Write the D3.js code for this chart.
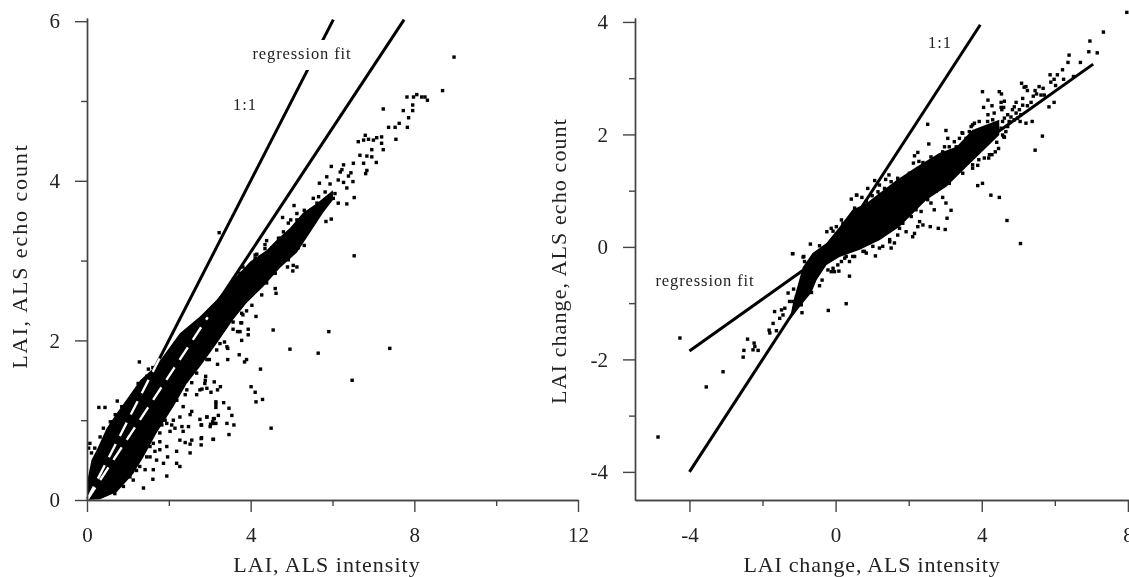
<!DOCTYPE html>
<html>
<head>
<meta charset="utf-8">
<script src="https://cdnjs.cloudflare.com/ajax/libs/d3/7.8.5/d3.min.js"></script>
<style>
body { margin: 0; background: #fff; overflow: hidden; }
svg { display: block; filter: blur(0.35px); }
text { font-family: "Liberation Serif", serif; fill: #222; }
.axis path, .axis line { stroke: #444; stroke-width: 1.4px; }
.axis text { font-family: "Liberation Serif", serif; font-size: 21px; fill: #222; }
</style>
</head>
<body>
<div class="chart"></div>
<script>
var svgWidth = 1129;
var svgHeight = 577;

// tick values
var leftXMajor = [0, 4, 8, 12];
var leftXMinor = [2, 6, 10];
var leftYMajor = [0, 2, 4, 6];
var leftYMinor = [1, 3, 5];
var rightXMajor = [-4, 0, 4, 8];
var rightXMinor = [-2, 2, 6];
var rightYMajor = [-4, -2, 0, 2, 4];
var rightYMinor = [-3, -1, 1, 3];

// reference lines, end points
var leftOneToOne = [[0, 0], [6.02, 6.02]];
var leftFit = [[0, 0], [7.75, 6.02]];
var leftOneToOneWhite = [[0, 0], [1.8, 1.8]];
var leftFitWhite = [[0, 0], [2.95, 2.29]];
var rightOneToOne = [[-4, -4], [3.96, 3.95]];
var rightFit = [[-4, -1.85], [7.05, 3.25]];

// outline of the solid part of each cloud
var leftCloud = [[0, 0], [0.01, 0.25], [0.11, 0.5], [0.24, 0.63], [0.48, 0.9], [0.73, 1.09], [1.05, 1.32],
    [1.3, 1.5], [1.7, 1.69], [2.27, 2.09], [2.76, 2.3], [3.17, 2.51], [3.57, 2.76], [3.99, 2.99],
    [4.39, 3.13], [4.64, 3.26], [4.96, 3.41], [5.28, 3.6], [5.62, 3.72], [6.01, 3.88],
    [6.01, 3.76], [5.77, 3.6], [5.45, 3.35], [5.13, 3.1], [4.72, 2.91], [4.3, 2.67], [3.9, 2.47],
    [3.57, 2.26], [3.17, 1.96], [2.76, 1.67], [2.44, 1.46], [2.11, 1.17], [1.7, 0.84], [1.38, 0.54],
    [1.13, 0.33], [0.73, 0.1], [0.32, 0.01]];
var rightCloud = [[-1.26, -1.3], [-1.15, -0.95], [-0.9, -0.36], [-0.63, -0.11], [-0.25, 0.07], [0.11, 0.36], [0.46, 0.66],
    [0.85, 0.78], [1.67, 1.19], [2.21, 1.42], [2.84, 1.67], [3.31, 1.78], [3.74, 2.08], [4.48, 2.26],
    [4.48, 1.99], [3.58, 1.42], [3.03, 1.07], [2.49, 0.84], [1.75, 0.36], [1.2, 0.12], [0.66, -0.05],
    [0.11, -0.18], [-0.25, -0.32], [-0.52, -0.59], [-0.66, -0.81], [-0.9, -1.0]];

// single points outside the solid part
var leftPoints = [[4.55, 2.13], [5.91, 2.11], [4.96, 1.89], [5.65, 1.84], [7.4, 1.9], [6.48, 1.5], [4.24, 1.64],
    [3.72, 1.82], [3.44, 1.76], [3.9, 1.76], [3.85, 1.73], [3.19, 1.7], [2.99, 1.76], [3.44, 1.9], [3.78, 2.0],
    [3.74, 2.11], [3.68, 2.11], [3.94, 2.14], [3.94, 2.07], [3.57, 2.14], [3.36, 1.98], [3.78, 2.22], [2.9, 1.55],
    [3.11, 1.48], [2.88, 1.46], [2.93, 1.4], [3.03, 1.35], [3.19, 1.38], [3.26, 1.42], [2.81, 1.39], [4.01, 1.42],
    [4.11, 1.35], [4.29, 1.26], [4.13, 1.23], [3.15, 1.23], [3.15, 1.2], [3.15, 1.16], [3.34, 1.22], [3.47, 1.15],
    [3.21, 1.06], [3.54, 1.06], [2.93, 1.04], [3.11, 1.02], [3.07, 0.98], [3.02, 0.95], [3.01, 0.92], [3.15, 0.96],
    [2.79, 0.94], [3.42, 0.96], [3.59, 0.94], [4.5, 0.9], [3.47, 0.82], [3.08, 0.76], [2.79, 0.77],
    [0.29, 1.16], [0.44, 1.16], [0.74, 1.24], [1.28, 1.73], [0.07, 0.71], [0.04, 0.65], [1.5, 1.64], [1.61, 1.66],
    [1.38, 0.15], [1.61, 0.26], [1.95, 0.3], [1.42, 0.38], [1.62, 0.38], [1.87, 0.46], [1.97, 0.54], [2.19, 0.46],
    [2.27, 0.42], [1.7, 0.5], [1.54, 0.54], [2.19, 0.61], [2.52, 0.59], [1.46, 0.67], [1.66, 0.61], [1.78, 0.63],
    [1.62, 0.71], [1.78, 0.73], [1.95, 0.67], [2.27, 0.75], [2.4, 0.72], [2.56, 0.75], [2.8, 0.78], [2.79, 0.69],
    [2.52, 0.7], [3.09, 0.76], [2.07, 0.94], [2.15, 0.9], [2.03, 0.86], [2.32, 0.92], [2.35, 0.86], [2.11, 1.0],
    [2.27, 1.04], [2.48, 0.92], [1.78, 1.07], [1.91, 1.0], [1.83, 0.94], [2.76, 1.01], [2.93, 1.04], [3.09, 1.02],
    [2.8, 0.94], [3.09, 0.96], [2.52, 1.07], [2.56, 1.11], [2.35, 1.17], [2.76, 1.38], [2.68, 1.32], [2.89, 1.5],
    [2.56, 1.47], [2.4, 1.32], [2.19, 1.25], [4.13, 2.3], [3.42, 1.92], [3.25, 1.96],
    [3.23, 3.35], [5.06, 3.69], [4.78, 3.54], [5.86, 4.05], [5.68, 3.97], [5.94, 3.96], [6.19, 4.11], [6.45, 4.1],
    [6.39, 4.06], [6.5, 3.99], [6.27, 3.98], [6.35, 3.91], [6.14, 4.01], [6.53, 3.79], [6.35, 3.71], [6.14, 3.72],
    [6.81, 4.09], [6.84, 4.13], [6.53, 3.06], [5.97, 3.52], [5.84, 3.49], [5.82, 3.86], [5.66, 3.8], [5.53, 3.78],
    [5.62, 3.72], [6.06, 3.84], [6.02, 3.78], [5.9, 3.74], [5.78, 3.72], [5.74, 3.66], [5.13, 3.59], [5.31, 3.63],
    [5.49, 3.59], [5.57, 3.53], [5.37, 3.51], [4.92, 3.47], [4.98, 3.51], [5.13, 3.51], [4.8, 3.36], [4.72, 3.28],
    [4.39, 3.25], [4.35, 3.15], [4.15, 3.08], [4.11, 3.03], [5.31, 3.19], [5.13, 2.92], [4.9, 2.92], [5.03, 2.87],
    [5.04, 2.94], [4.6, 2.65], [4.62, 2.59], [3.9, 2.37], [3.81, 2.32], [3.76, 2.22],
    [8.97, 5.55], [8.69, 5.13], [7.82, 5.05], [8.06, 5.08], [7.98, 5.05], [8.18, 5.05], [8.26, 5.05], [8.32, 5.01],
    [7.24, 4.9], [7.73, 4.88], [7.96, 4.95], [7.96, 4.88], [7.86, 4.79], [7.83, 4.67], [7.63, 4.72], [7.53, 4.67],
    [7.37, 4.67], [7.55, 4.52], [7.24, 4.39], [6.63, 4.49], [6.76, 4.51], [6.8, 4.57], [6.88, 4.52], [7.0, 4.51],
    [7.08, 4.54], [7.2, 4.55], [7.2, 4.47], [6.67, 4.32], [6.84, 4.31], [6.96, 4.39], [6.76, 4.22], [7.07, 4.23],
    [6.96, 4.3], [5.97, 4.18], [6.27, 4.2], [6.51, 4.22], [6.23, 4.14],
    // along the edges of the solid part
    [3.81, 2.92], [3.99, 2.94], [3.74, 2.84], [4.11, 3.07], [4.35, 3.2], [4.52, 3.16], [4.68, 3.28], [5.21, 3.32],
    [5.28, 3.41], [5.45, 3.47], [4.6, 2.84], [4.39, 2.72], [4.27, 2.57], [4.03, 2.44], [3.78, 2.34], [3.57, 2.23],
    [4.76, 3.01], [4.92, 3.01], [5.16, 3.16], [1.46, 0.54], [1.29, 0.42], [1.13, 0.25], [0.89, 0.17], [0.68, 0.08],
    [1.05, 0.29], [1.21, 0.37], [1.54, 0.67], [1.78, 0.84], [1.95, 0.96], [2.19, 1.25], [2.44, 1.38], [2.68, 1.59],
    [2.93, 1.76], [3.17, 1.88], [0.11, 0.59], [0.19, 0.65], [0.32, 0.79], [0.4, 0.9], [0.57, 0.98], [0.69, 1.07],
    [0.85, 1.17], [1.09, 1.3], [1.25, 1.46], [1.46, 1.55], [1.7, 1.65]];
var rightPoints = [[7.97, 4.17], [7.33, 3.82], [6.96, 3.66], [6.93, 3.47], [7.16, 3.45], [6.39, 3.41], [6.36, 3.28],
    [6.7, 3.28], [6.21, 3.15], [5.87, 3.06], [6.07, 3.06], [5.98, 2.98], [5.89, 2.93], [6.24, 2.98], [6.02, 2.87],
    [6.51, 3.03], [5.09, 2.91], [5.21, 2.85], [5.25, 2.78], [5.16, 2.84], [5.57, 2.85], [5.68, 2.82], [5.46, 2.78],
    [5.5, 2.72], [5.41, 2.68], [5.62, 2.7], [5.71, 2.7], [4.02, 2.76], [4.48, 2.76], [4.54, 2.72], [4.17, 2.61],
    [4.62, 2.59], [4.53, 2.57], [4.28, 2.51], [4.05, 2.48], [4.53, 2.48], [4.6, 2.48], [4.55, 2.44], [4.94, 2.57],
    [5.12, 2.64], [5.35, 2.57], [5.25, 2.51], [5.12, 2.52], [4.89, 2.49], [5.03, 2.44], [4.84, 2.44], [5.98, 2.57],
    [5.84, 2.49], [4.17, 2.35], [4.34, 2.38], [4.3, 2.26], [4.16, 2.23], [4.71, 2.35], [4.8, 2.31], [4.94, 2.38],
    [5.07, 2.35], [4.98, 2.29], [4.62, 2.29], [4.57, 2.23], [4.75, 2.23], [4.89, 2.26], [5.38, 2.23], [5.21, 2.2],
    [5.05, 2.23], [3.93, 2.23], [3.8, 2.2], [3.71, 2.14], [3.66, 2.05], [4.53, 2.11], [4.71, 2.14], [4.66, 2.05],
    [4.57, 1.99], [4.62, 1.95], [5.66, 1.97], [3.46, 2.03],
    [2.52, 2.18], [2.55, 1.83], [3.02, 2.07], [3.07, 1.93], [3.25, 1.87], [3.11, 1.78], [3.39, 1.93], [3.48, 2.02],
    [3.61, 1.93], [3.75, 2.17], [2.98, 1.78], [2.25, 1.68], [2.16, 1.62], [2.13, 1.49], [2.28, 1.52], [2.39, 1.5],
    [1.46, 1.28], [1.37, 1.2], [1.52, 1.16], [1.07, 1.18], [1.2, 1.1], [1.34, 1.04], [1.16, 0.98], [1.0, 0.91],
    [0.43, 0.85], [0.58, 0.92], [0.72, 0.88], [0.88, 1.04], [0.16, 0.48], [0.02, 0.36], [-0.12, 0.33], [-0.24, 0.27],
    [-0.69, 0.05], [-0.44, 0.02], [4.02, 1.13], [3.89, 1.09], [4.25, 0.92], [4.48, 0.88], [2.61, 0.78], [2.7, 0.66],
    [3.02, 0.78], [3.16, 0.65], [3.05, 0.51], [2.93, 0.88], [2.59, 0.36], [2.81, 0.33], [3.0, 0.31], [2.34, 0.63],
    [2.3, 0.45], [2.39, 0.39], [2.07, 0.54], [1.84, 0.42], [2.16, 0.24], [2.11, 0.18], [1.93, 0.27], [2.25, 0.36],
    [1.7, 0.21], [1.61, 0.07], [1.48, 0.09], [1.29, 0.01], [1.02, 0.01], [0.75, -0.08], [0.47, -0.17], [0.29, -0.17],
    [1.09, -0.16], [0.38, -0.52], [0.29, -1.01], [-0.2, -1.13], [-0.92, -1.17], [-1.17, -0.12], [-0.89, -0.18],
    [0.09, -0.43], [0.06, -0.32], [-0.12, -0.44], [-0.21, -0.41], [-0.07, -0.38], [0.25, -0.2], [0.38, -0.26],
    [0.52, -0.17], [0.79, -0.08], [1.52, -0.02], [-0.37, -0.59], [-0.44, -0.69], [-0.66, -0.81],
    [-4.26, -1.62], [-2.53, -1.96], [-2.51, -1.84], [-2.41, -1.64], [-2.23, -1.71], [-2.26, -1.83], [-2.12, -1.84],
    [-2.21, -1.77], [-1.82, -1.48], [-1.8, -1.53], [-1.62, -1.49], [-1.71, -1.36], [-1.67, -1.15], [-1.48, -1.12],
    [-1.39, -1.09], [-1.53, -1.27], [-1.44, -1.21], [-1.3, -0.82], [-1.26, -0.97], [-1.15, -0.75], [-1.07, -0.88],
    [-1.17, -0.97], [-1.03, -1.0], [-0.94, -1.03], [-1.18, -0.12], [-0.87, -0.17], [-0.85, -0.26], [-0.03, -0.44],
    [0.16, -0.26], [0.57, 0.92], [-4.86, -3.38], [-3.54, -2.49], [-3.08, -2.22],
    [5.46, 1.72], [4.69, 0.47], [5.06, 0.06], [4.46, 1.75], [4.37, 1.69], [4.28, 1.64], [4.19, 1.58], [4.07, 1.58],
    [3.92, 1.55], [3.89, 1.45], [3.75, 1.4], [4.6, 1.96], [4.41, 1.86],
    // along the edges of the solid part
    [-0.07, 0.28], [0.2, 0.42], [0.52, 0.69], [0.84, 0.81], [1.2, 0.93], [1.7, 1.22], [2.02, 1.31], [2.61, 1.6],
    [2.93, 1.69], [3.3, 1.78], [3.57, 1.93], [1.75, 0.33], [1.48, 0.13], [1.2, -0.02], [0.84, -0.11], [2.2, 0.66],
    [2.52, 0.84], [2.75, 0.99], [3.11, 1.13], [3.48, 1.31], [3.75, 1.46], [4.21, 1.64]];

var svg = d3
    .select(".chart")
    .append("svg")
    .attr("width", svgWidth)
    .attr("height", svgHeight);

function drawPanel(opts) {
    var x = opts.x, y = opts.y;
    var line = d3.line().x(d => x(d[0])).y(d => y(d[1]));
    var g = svg.append("g");

    g.append("path")
        .attr("d", line(opts.cloud) + "Z")
        .attr("fill", "black");

    g.selectAll("rect.pt")
        .data(opts.points)
        .enter()
        .append("rect")
        .attr("class", "pt")
        .attr("x", d => x(d[0]) - 1.7)
        .attr("y", d => y(d[1]) - 1.7)
        .attr("width", 3.4)
        .attr("height", 3.4)
        .attr("fill", "black");

    opts.lines.forEach(function(l) {
        g.append("path")
            .attr("d", line(l))
            .attr("fill", "none")
            .attr("stroke", "black")
            .attr("stroke-width", 3);
    });

    (opts.whiteLines || []).forEach(function(l) {
        g.append("path")
            .attr("d", line(l))
            .attr("fill", "none")
            .attr("stroke", "white")
            .attr("stroke-width", 2.4)
            .attr("stroke-dasharray", "15 9");
    });

    // major and minor ticks go on separate axis calls
    g.append("g")
        .attr("class", "axis")
        .attr("transform", `translate(0, ${opts.baseY})`)
        .call(d3.axisBottom(x).tickValues(opts.xMajor).tickSize(12).tickPadding(15).tickFormat(d3.format("d")).tickSizeOuter(0));
    g.append("g")
        .attr("class", "axis")
        .attr("transform", `translate(0, ${opts.baseY})`)
        .call(d3.axisBottom(x).tickValues(opts.xMinor).tickSize(6).tickFormat("").tickSizeOuter(0));

    g.append("g")
        .attr("class", "axis")
        .attr("transform", `translate(${opts.baseX}, 0)`)
        .call(d3.axisLeft(y).tickValues(opts.yMajor).tickSize(12).tickPadding(15).tickFormat(d3.format("d")).tickSizeOuter(0));
    g.append("g")
        .attr("class", "axis")
        .attr("transform", `translate(${opts.baseX}, 0)`)
        .call(d3.axisLeft(y).tickValues(opts.yMinor).tickSize(6).tickFormat("").tickSizeOuter(0));

    // d3 writes a true minus, the figure has a hyphen
    g.selectAll(".axis text").text(function() { return d3.select(this).text().replace("\u2212", "-"); });
}

drawPanel({
    x: d3.scaleLinear().domain([0, 12]).range([87, 578]),
    y: d3.scaleLinear().domain([0, 6.04]).range([500, 18]),
    baseX: 87, baseY: 500,
    xMajor: leftXMajor, xMinor: leftXMinor, yMajor: leftYMajor, yMinor: leftYMinor,
    cloud: leftCloud, points: leftPoints,
    lines: [leftOneToOne, leftFit],
    whiteLines: [leftOneToOneWhite, leftFitWhite]
});

drawPanel({
    x: d3.scaleLinear().domain([-5.49, 8.03]).range([635, 1129]),
    y: d3.scaleLinear().domain([-4.5, 4.07]).range([500, 18]),
    baseX: 635, baseY: 500,
    xMajor: rightXMajor, xMinor: rightXMinor, yMajor: rightYMajor, yMinor: rightYMinor,
    cloud: rightCloud, points: rightPoints,
    lines: [rightOneToOne, rightFit]
});

function addLabel(px, py, str, size, spacing, rotate) {
    var t = svg.append("text")
        .attr("text-anchor", "middle")
        .attr("font-size", size + "px")
        .attr("letter-spacing", spacing + "px")
        .text(str);
    if (rotate) t.attr("transform", `translate(${px}, ${py}) rotate(-90)`);
    else t.attr("x", px).attr("y", py);
    return t;
}

// white box cuts the 1:1 line behind the label
svg.append("rect").attr("x", 248).attr("y", 40).attr("width", 108).attr("height", 30).attr("fill", "white");

addLabel(302, 59, "regression fit", 16.5, 0.9);
addLabel(245, 110, "1:1", 16.5, 1);
addLabel(705, 286, "regression fit", 16.5, 0.9);
addLabel(940, 48, "1:1", 16.5, 1);

addLabel(327, 572, "LAI, ALS intensity", 22, 1);
addLabel(872, 572, "LAI change, ALS intensity", 22, 0.8);
addLabel(27, 256, "LAI, ALS echo count", 22, 1.9, true);
addLabel(566, 261, "LAI change, ALS echo count", 22, 1.1, true);
</script>
</body>
</html>
